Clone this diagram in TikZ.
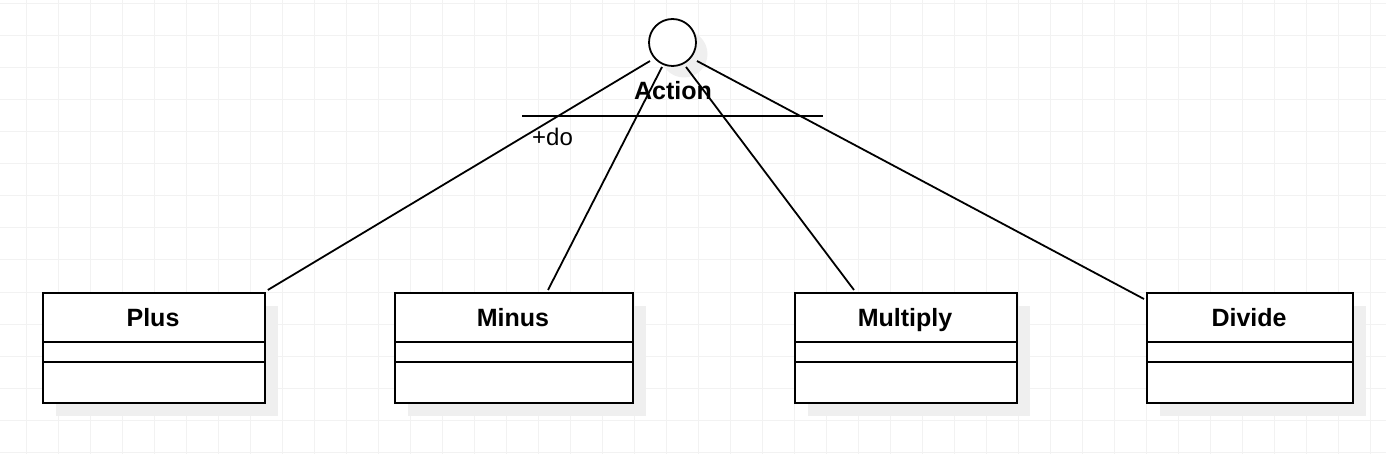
\documentclass[tikz,border=0pt]{standalone}
\usepackage{fontspec}
\setmainfont{Liberation Sans}
\definecolor{gridc}{HTML}{F2F2F2}
\definecolor{shadowc}{HTML}{EFEFEF}
\begin{document}
\begin{tikzpicture}[x=1pt,y=-1pt,
  ln/.style={line width=1.8pt,black},
  box/.style={draw,line width=1.8pt,fill=white,inner sep=0pt},
  title/.style={font=\fontsize{25}{29}\selectfont\bfseries,inner sep=0pt,anchor=base},
  shadowbox/.style={fill=shadowc,draw=none}]
\useasboundingbox (0,0) rectangle (1386,454);
% grid
\foreach \x in {26,58,...,1386} \draw[gridc,line width=1pt] (\x,0) -- (\x,454);
\foreach \y in {4,36,...,454} \draw[gridc,line width=1pt] (0,\y) -- (1386,\y);
% shadows
\fill[shadowc] (56,306) rectangle (278,416);
\fill[shadowc] (408,306) rectangle (646,416);
\fill[shadowc] (808,306) rectangle (1030,416);
\fill[shadowc] (1160,306) rectangle (1366,416);
\fill[shadowc] (684,54) circle (23.5);
% interface
\node[draw,circle,line width=1.8pt,fill=white,minimum size=47pt,inner sep=0pt] (act) at (672.5,42.5) {};
\node[title] (actl) at (673,100) {Action};
\coordinate (sepL) at (522,115.7);
\coordinate (sepR) at (823,115.7);
\draw[ln] (sepL) -- (sepR);
\node[font=\fontsize{24}{28}\selectfont,anchor=base west,inner sep=0pt] (dol) at (532,146) {+do};
% classes
\foreach \n/\l/\r/\t in {plus/42/264/Plus,minus/394/632/Minus,mult/794/1016/Multiply,div/1146/1352/Divide}{
  \node[box,minimum width={\r-\l},minimum height=110pt,anchor=north west] (\n) at (\l,292) {};
  \node[title] (\n t) at ({(\l+\r)/2},326) {\t};
  \draw[ln] (\l,342) -- (\r,342);
  \draw[ln] (\l,362) -- (\r,362);
}
% connectors
\coordinate (a1) at (650,61);
\coordinate (a2) at (662,67);
\coordinate (a3) at (686,67);
\coordinate (a4) at (697,61);
\coordinate (b2) at (548,290);
\coordinate (b3) at (854,290);
\coordinate (b4) at (1144,299);
\draw[ln] (a1) -- ([shift={(2,-2)}]plus.north east);
\draw[ln] (a2) -- (b2);
\draw[ln] (a3) -- (b3);
\draw[ln] (a4) -- (b4);
\end{tikzpicture}
\end{document}
